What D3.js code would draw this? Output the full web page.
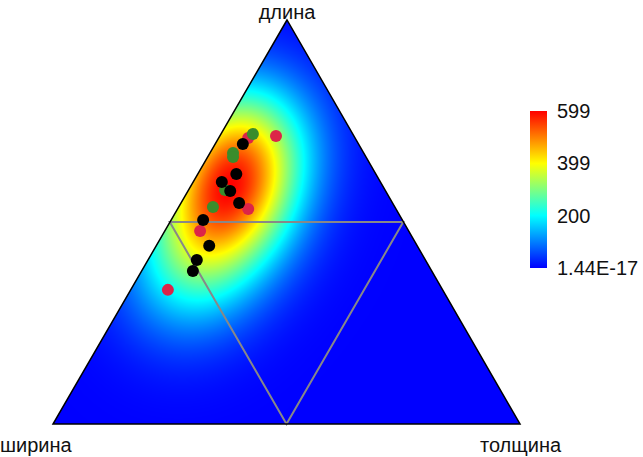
<!DOCTYPE html>
<html lang="en">
<head>
<meta charset="utf-8">
<title>Ternary density</title>
<script src="https://d3js.org/d3.v7.min.js"></script>
<style>
  body { margin: 0; background: #fff; }
  text { font-family: "Liberation Sans", Arial, sans-serif; fill: #111; }
</style>
</head>
<body>
<div id="chart"></div>
<script>

// axis names (top, bottom-left, bottom-right)
var axisNames = ["длина", "ширина", "толщина"];

// points as [длина, ширина, толщина] in %
var redPts = [
  [71.3, 16.6, 12.1], [70.8, 22.8, 6.4], [53.2, 31.6, 15.2],
  [47.8, 44.6, 7.6], [33.2, 58.8, 8.0]
];
var greenPts = [
  [71.8, 21.3, 6.9], [67.1, 27.9, 5.0], [66.1, 28.4, 5.5],
  [57.9, 34.2, 7.9], [53.7, 38.9, 7.4]
];
var blackPts = [
  [69.3, 24.7, 6.0], [61.9, 29.8, 8.3], [59.9, 33.9, 6.2],
  [57.7, 33.2, 9.1], [54.7, 32.8, 12.5], [50.5, 42.6, 6.9],
  [44.1, 44.5, 11.4], [40.6, 48.9, 10.5], [37.9, 51.1, 11.0]
];

// colour bar
var barTicks = [0, 200, 399, 599];
var barLabels = ["1.44E-17", "200", "399", "599"];
var barColors = ["#0000ff", "#00ffff", "#ffff00", "#ff0000"];

var w = 643, h = 457;
var svg = d3.select("#chart").append("svg")
  .attr("width", w).attr("height", h);

// triangle corners
var top_ = [287, 20], left_ = [53, 424], right_ = [520, 424];
var side = right_[0] - left_[0];
var tH = left_[1] - top_[1];

// ternary -> pixel
function tern(p) {
  var s = p[0] + p[1] + p[2];
  var a = p[0] / s, c = p[2] / s;
  return [left_[0] + side * (c + a / 2), left_[1] - tH * a];
}

var allPts = redPts.concat(greenPts, blackPts).map(tern);

// density (gaussian kernel) on the triangle box
var hx = 45, hy = 50;
var cw = side, ch = Math.ceil(tH);
var grid = new Float32Array(cw * ch);
var maxD = 0;
for (var j = 0; j < ch; j++) {
  for (var i = 0; i < cw; i++) {
    var x = left_[0] + i + 0.5, y = top_[1] + j + 0.5, d = 0;
    allPts.forEach(function (q) {
      var dx = (x - q[0]) / hx, dy = (y - q[1]) / hy;
      d += Math.exp(-0.5 * (dx * dx + dy * dy));
    });
    grid[j * cw + i] = d;
    if (d > maxD) maxD = d;
  }
}

var color = d3.scaleLinear().domain(barTicks).range(barColors).clamp(true);

var canvas = document.createElement("canvas");
canvas.width = cw; canvas.height = ch;
var ctx = canvas.getContext("2d");
var img = ctx.createImageData(cw, ch);
for (var k = 0; k < cw * ch; k++) {
  var c = d3.rgb(color(grid[k] / maxD * 599));
  img.data[k * 4] = c.r;
  img.data[k * 4 + 1] = c.g;
  img.data[k * 4 + 2] = c.b;
  img.data[k * 4 + 3] = 255;
}
ctx.putImageData(img, 0, 0);

var tri = [top_, left_, right_];
svg.append("clipPath").attr("id", "tri")
  .append("polygon").attr("points", tri.join(" "));

svg.append("image")
  .attr("x", left_[0]).attr("y", top_[1])
  .attr("width", cw).attr("height", ch)
  .attr("href", canvas.toDataURL())
  .attr("clip-path", "url(#tri)");

// inner grid lines at 50%
var mids = [[50, 50, 0], [50, 0, 50], [0, 50, 50]].map(tern);
svg.append("polygon")
  .attr("points", mids.join(" "))
  .attr("fill", "none")
  .attr("stroke", "#888")
  .attr("stroke-width", 2);

svg.append("polygon")
  .attr("points", tri.join(" "))
  .attr("fill", "none")
  .attr("stroke", "#000")
  .attr("stroke-width", 1.5);

// points
function dots(data, fill) {
  svg.append("g").selectAll("circle")
    .data(data).enter().append("circle")
    .attr("cx", function (d) { return tern(d)[0]; })
    .attr("cy", function (d) { return tern(d)[1]; })
    .attr("r", 6)
    .attr("fill", fill);
}
dots(redPts, "#dc2448");
dots(greenPts, "#3a8d2c");
dots(blackPts, "#000");

// axis names
svg.append("text").attr("x", 287).attr("y", 19)
  .attr("text-anchor", "middle").style("font-size", "20px").text(axisNames[0]);
svg.append("text").attr("x", 0).attr("y", 452)
  .style("font-size", "20px").text(axisNames[1]);
svg.append("text").attr("x", 480).attr("y", 452)
  .style("font-size", "20px").text(axisNames[2]);

// colour bar
var by = d3.scaleLinear().domain([0, 599]).range([268, 111]);
var grad = svg.append("defs").append("linearGradient")
  .attr("id", "bar").attr("x1", 0).attr("y1", 1).attr("x2", 0).attr("y2", 0);
barTicks.forEach(function (t, i) {
  grad.append("stop").attr("offset", t / 599).attr("stop-color", barColors[i]);
});
svg.append("rect")
  .attr("x", 530).attr("y", by(599))
  .attr("width", 17).attr("height", by(0) - by(599))
  .attr("fill", "url(#bar)");
svg.append("g").selectAll("text")
  .data(barTicks).enter().append("text")
  .attr("x", 557)
  .attr("y", function (d) { return by(d); })
  .attr("dy", "0.35em")
  .style("font-size", "20px")
  .text(function (d, i) { return barLabels[i]; });

</script>
</body>
</html>
